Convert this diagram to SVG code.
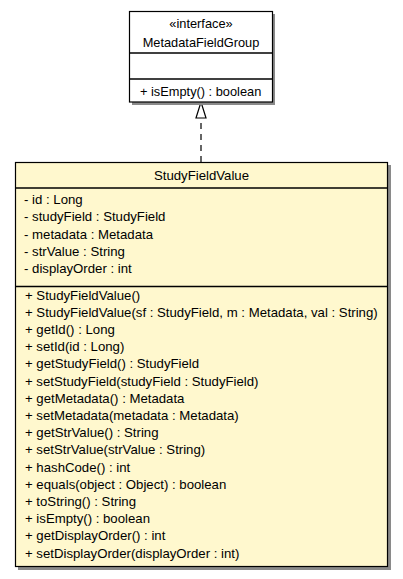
<svg xmlns="http://www.w3.org/2000/svg" width="403" height="579" viewBox="0 0 403 579">
<style>
text{font-family:"Liberation Sans",Arial,sans-serif;font-size:13.2px;fill:#000}
.i{font-size:12.8px}
.c{text-anchor:middle}
.box{stroke:#000;stroke-width:1.2}
.sep{stroke:#000;stroke-width:1.5}
.sh{fill:#8a8a8a}
</style>
<rect width="403" height="579" fill="#fff"/>
<g id="connectors">
<line x1="201" y1="162" x2="201" y2="117" stroke="#000" stroke-width="1.2" stroke-dasharray="6,5"/>
<path d="M201,102 L206,118 L196,118 Z" fill="#fff" stroke="#000" stroke-width="1.2"/>
</g>
<g id="MetadataFieldGroup">
<rect class="sh" x="132" y="14" width="143" height="91"/>
<rect class="box" x="129.5" y="11.5" width="143" height="90.5" fill="#fff"/>
<line class="sep" x1="129.5" y1="53" x2="272.5" y2="53"/>
<line class="sep" x1="129.5" y1="79" x2="272.5" y2="79"/>
<text class="c i" x="201" y="27.5">«interface»</text>
<text class="c i" x="201" y="46.5">MetadataFieldGroup</text>
<text class="i" x="140" y="95.5">+ isEmpty() : boolean</text>
</g>
<g id="StudyFieldValue">
<rect class="sh" x="18" y="165" width="373" height="405"/>
<rect class="box" x="15.5" y="162.5" width="372" height="404" fill="#FFF8CE"/>
<line class="sep" x1="15.5" y1="188" x2="387.5" y2="188"/>
<line class="sep" x1="15.5" y1="286.5" x2="387.5" y2="286.5"/>
<text class="c" x="201.5" y="180">StudyFieldValue</text>
<text x="24" y="204">- id : Long</text>
<text x="24" y="221.25">- studyField : StudyField</text>
<text x="24" y="238.5">- metadata : Metadata</text>
<text x="24" y="255.75">- strValue : String</text>
<text x="24" y="273">- displayOrder : int</text>
<text x="25" y="299.5">+ StudyFieldValue()</text>
<text x="25" y="316.7">+ StudyFieldValue(sf : StudyField, m : Metadata, val : String)</text>
<text x="25" y="333.9">+ getId() : Long</text>
<text x="25" y="351.1">+ setId(id : Long)</text>
<text x="25" y="368.3">+ getStudyField() : StudyField</text>
<text x="25" y="385.5">+ setStudyField(studyField : StudyField)</text>
<text x="25" y="402.7">+ getMetadata() : Metadata</text>
<text x="25" y="419.9">+ setMetadata(metadata : Metadata)</text>
<text x="25" y="437.1">+ getStrValue() : String</text>
<text x="25" y="454.3">+ setStrValue(strValue : String)</text>
<text x="25" y="471.5">+ hashCode() : int</text>
<text x="25" y="488.7">+ equals(object : Object) : boolean</text>
<text x="25" y="505.9">+ toString() : String</text>
<text x="25" y="523.1">+ isEmpty() : boolean</text>
<text x="25" y="540.3">+ getDisplayOrder() : int</text>
<text x="25" y="557.5">+ setDisplayOrder(displayOrder : int)</text>
</g>
</svg>
